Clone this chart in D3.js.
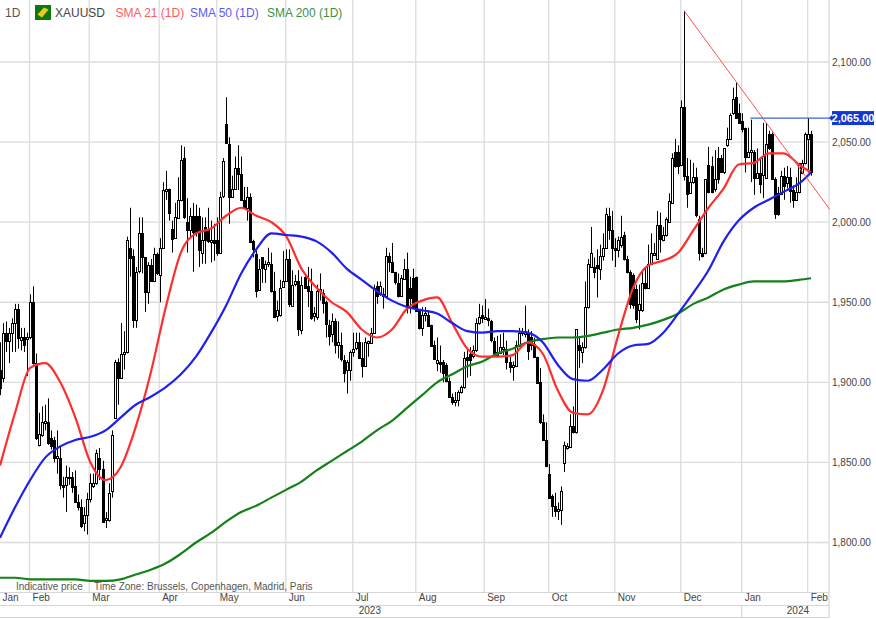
<!DOCTYPE html>
<html>
<head>
<meta charset="utf-8">
<title>XAUUSD</title>
<script src="https://cdn.jsdelivr.net/npm/d3@7"></script>
<style>
  html, body { margin: 0; padding: 0; background: #fff; }
  svg { display: block; font-family: "Liberation Sans", Arial, sans-serif; }
</style>
</head>
<body>
<svg id="chart" width="876" height="619"></svg>
<script>
// Daily bars, Jan 2023 - Feb 2024
const opens = [
  1908,1903,1931,1926,1931,1937,1946,1926,1928,1927,
  1928,1950,1912,1861,1867,1875,1875,1865,1864,1853,
  1853,1836,1836,1841,1841,1835,1825,1822,1812,1817,
  1827,1835,1837,1853,1846,1814,1814,1832,1878,1913,
  1903,1918,1919,1984,1979,1939,1969,1993,1978,1956,
  1973,1963,1980,1967,1984,2020,2021,1996,1990,2003,
  2014,2040,2000,1995,2004,2004,2004,1981,1997,1995,
  1988,1989,1989,1981,2016,2061,2049,2016,2021,2034,
  2030,2014,2009,2016,1988,1980,1958,1978,1971,1974,
  1974,1957,1941,1942,1959,1963,1977,1948,1961,1963,
  1933,1966,1960,1957,1941,1941,1957,1956,1950,1936,
  1930,1938,1923,1923,1914,1908,1908,1919,1921,1925,
  1915,1910,1925,1925,1931,1960,1955,1954,1954,1979,
  1975,1969,1962,1954,1965,1971,1959,1965,1966,1945,
  1934,1942,1942,1936,1923,1912,1913,1913,1911,1901,
  1891,1888,1889,1894,1897,1916,1918,1916,1920,1937,
  1942,1940,1940,1938,1926,1917,1918,1921,1921,1913,
  1910,1910,1923,1931,1930,1931,1928,1924,1916,1900,
  1875,1864,1843,1829,1823,1820,1820,1850,1859,1860,
  1873,1869,1923,1919,1922,1947,1972,1972,1973,1971,
  1979,1984,2004,1995,1984,1983,1986,1992,1977,1969,
  1967,1958,1945,1945,1962,1959,1974,1980,1977,1998,
  1989,1992,2000,2012,2044,2044,2036,2072,2029,2018,
  2025,2028,2002,1981,1981,2036,2035,2021,2040,2040,
  2031,2048,2052,2068,2078,2068,2063,2059,2041,2044,
  2044,2028,2031,2029,2028,2055,2055,2027,2018,2018,
  2029,2024,2028,2020,2014,2019,2031,2037,2052,2055
];
const highs = [
  1925,1937,1938,1934,1940,1949,1949,1934,1934,1931,
  1955,1960,1918,1881,1885,1886,1890,1870,1866,1870,
  1860,1841,1848,1847,1844,1845,1830,1827,1822,1831,
  1843,1843,1858,1859,1851,1819,1837,1870,1914,1915,
  1937,1932,1991,2009,1983,1972,2003,2003,1978,1975,
  1977,1984,1981,1990,2025,2032,2021,2001,2012,2028,
  2048,2047,2015,2009,2012,2011,2009,2003,2003,2009,
  2001,1999,2003,2019,2040,2078,2053,2029,2041,2048,
  2041,2022,2022,2018,1989,1984,1977,1978,1976,1984,
  1981,1969,1951,1964,1982,1983,1983,1970,1967,1970,
  1966,1968,1972,1971,1947,1961,1968,1958,1951,1939,
  1943,1940,1938,1931,1917,1914,1920,1931,1931,1931,
  1925,1928,1926,1934,1961,1963,1963,1959,1984,1981,
  1987,1969,1968,1967,1977,1981,1966,1971,1966,1945,
  1947,1947,1945,1936,1926,1928,1923,1914,1912,1903,
  1893,1894,1895,1898,1919,1920,1922,1923,1940,1949,
  1948,1952,1946,1939,1928,1929,1930,1931,1926,1916,
  1913,1926,1934,1934,1948,1933,1932,1928,1916,1909,
  1880,1875,1849,1830,1831,1825,1835,1863,1862,1880,
  1885,1933,1928,1925,1963,1977,1997,1978,1983,1986,
  1993,2009,2009,2007,1990,1991,2004,1994,1979,1970,
  1968,1961,1961,1969,1972,1986,1993,1987,2007,2006,
  1997,2003,2018,2043,2052,2048,2076,2132,2040,2039,
  2037,2034,2004,1984,2027,2047,2041,2045,2047,2042,
  2046,2059,2068,2084,2087,2074,2068,2059,2059,2064,
  2045,2046,2040,2062,2062,2057,2056,2028,2022,2032,
  2034,2035,2034,2023,2028,2037,2039,2056,2065,2057
];
const lows = [
  1892,1900,1919,1912,1919,1919,1921,1920,1919,1904,
  1927,1911,1864,1860,1866,1870,1861,1858,1850,1843,
  1833,1828,1819,1836,1831,1825,1820,1809,1807,1805,
  1825,1834,1836,1839,1813,1809,1813,1828,1878,1886,
  1903,1908,1918,1966,1934,1934,1968,1968,1944,1949,
  1963,1963,1967,1950,1984,2014,2001,1981,1990,2002,
  2013,2002,1981,1990,1969,1991,1972,1974,1974,1987,
  1975,1976,1979,1981,2015,2049,1999,2016,2021,2020,
  2014,2009,2001,1987,1978,1953,1957,1962,1962,1972,
  1956,1941,1938,1941,1959,1963,1947,1947,1960,1929,
  1930,1959,1947,1939,1938,1939,1951,1943,1928,1923,
  1925,1918,1915,1913,1900,1893,1901,1916,1920,1915,
  1903,1910,1916,1925,1931,1949,1954,1946,1953,1969,
  1969,1961,1953,1954,1964,1943,1943,1946,1944,1933,
  1929,1938,1935,1923,1914,1907,1906,1900,1900,1891,
  1886,1885,1885,1893,1896,1903,1904,1915,1919,1936,
  1937,1939,1935,1925,1916,1916,1918,1917,1908,1906,
  1901,1910,1922,1929,1928,1914,1920,1916,1899,1874,
  1864,1847,1828,1816,1816,1814,1811,1844,1858,1859,
  1868,1868,1909,1912,1921,1946,1972,1965,1953,1964,
  1976,1984,1989,1976,1972,1978,1984,1976,1968,1946,
  1946,1937,1933,1944,1958,1959,1974,1979,1977,1981,
  1988,1991,2000,2012,2034,2030,2035,2026,2009,2018,
  2024,2003,1976,1978,1980,2018,2018,2019,2024,2031,
  2030,2047,2052,2067,2065,2062,2056,2031,2040,2025,
  2017,2027,2018,2015,2028,2045,2027,2002,2004,2017,
  2014,2021,2012,2009,2014,2018,2030,2036,2031,2029
];
const closes = [
  1897,1931,1926,1931,1937,1946,1928,1928,1923,1928,
  1950,1912,1865,1868,1875,1876,1862,1860,1853,1854,
  1836,1835,1841,1841,1835,1825,1822,1810,1817,1827,
  1837,1837,1856,1846,1813,1815,1831,1867,1913,1903,
  1918,1919,1989,1978,1939,1969,1993,1978,1956,1973,
  1963,1980,1968,1984,2020,2021,2006,1990,2003,2014,
  2039,2003,1995,2004,1994,1994,1983,1989,1989,1988,
  1989,1987,1981,2016,2038,2049,2016,2021,2034,2030,
  2014,2009,2016,1988,1983,1957,1971,1971,1974,1975,
  1957,1941,1945,1959,1963,1977,1949,1961,1963,1933,
  1961,1959,1957,1940,1943,1957,1958,1950,1936,1929,
  1938,1923,1925,1914,1906,1913,1919,1921,1925,1915,
  1910,1925,1926,1931,1959,1954,1960,1955,1979,1975,
  1969,1963,1954,1965,1971,1947,1953,1947,1945,1934,
  1942,1943,1935,1923,1914,1914,1912,1906,1901,1891,
  1888,1889,1894,1897,1915,1914,1914,1920,1937,1941,
  1940,1941,1939,1926,1917,1919,1922,1922,1913,1910,
  1911,1923,1931,1932,1932,1920,1923,1916,1900,1875,
  1864,1848,1828,1823,1820,1821,1832,1861,1860,1873,
  1869,1933,1920,1922,1947,1974,1981,1969,1971,1979,
  1984,2005,1995,1984,1983,1989,1991,1977,1969,1949,
  1948,1939,1949,1962,1959,1974,1981,1981,1998,1989,
  1992,2002,2013,2040,2035,2035,2072,2029,2018,2025,
  2028,2004,1981,1979,2027,2019,2019,2027,2027,2031,
  2046,2052,2067,2077,2065,2062,2058,2041,2044,2045,
  2028,2031,2024,2041,2049,2046,2027,2005,2005,2029,
  2023,2028,2019,2014,2019,2037,2037,2055,2055,2031
];

// Moving averages, sampled every 5 bars
const smaBars = [0,5,10,15,20,25,30,35,40,45,50,55,60,65,70,75,80,85,90,95,100,105,110,115,120,125,130,135,140,145,150,155,160,165,170,175,180,185,190,195,200,205,210,215,220,225,230,235,240,245,250,255,260,265,269];
const sma21 = [1848,1881,1909,1912,1900,1878,1850,1839,1847,1872,1906,1947,1981,1993,1996,2004,2009,2004,2000,1991,1971,1959,1950,1944,1933,1928,1933,1946,1951,1953,1937,1921,1916,1916,1917,1925,1918,1895,1881,1880,1895,1929,1959,1973,1976,1981,1995,2009,2021,2036,2037,2043,2043,2036,2031];
const sma50 = [1803,1822,1839,1853,1860,1864,1866,1870,1878,1886,1891,1897,1905,1916,1931,1948,1968,1983,1993,1992,1991,1988,1981,1971,1964,1957,1951,1947,1945,1943,1937,1932,1931,1932,1932,1931,1925,1911,1902,1901,1908,1918,1923,1924,1931,1943,1956,1970,1988,2001,2009,2014,2019,2024,2031];
const sma200 = [1778,1778,1777,1777,1777,1777,1776,1776,1777,1780,1783,1787,1793,1800,1806,1813,1819,1823,1828,1833,1838,1845,1851,1857,1863,1870,1876,1884,1892,1900,1905,1910,1913,1918,1921,1925,1927,1928,1928,1929,1931,1933,1934,1936,1939,1943,1949,1953,1958,1961,1963,1963,1963,1964,1965];

// Axis labels
const priceTicks = [1800, 1850, 1900, 1950, 2000, 2050, 2100];
const monthLabels = ["Jan","Feb","Mar","Apr","May","Jun","Jul","Aug","Sep","Oct","Nov","Dec","Jan","Feb"];
const monthBars = [-0.2, 9.8, 29.6, 52.8, 71.9, 94.8, 117, 137.9, 160.6, 182, 203.9, 225.8, 246, 267.9];
const yearLabels = ["2023", "2024"];
const yearBars = [122.5, 264.5];

// Drawn annotations
const trendBars = [226.9, 275.2];
const trendPrices = [2132, 2008];
const lastPriceBars = [248.9, 275.2];
const lastPrice = 2065;

const legendLabels = ["1D", "XAUUSD", "SMA 21 (1D)", "SMA 50 (1D)", "SMA 200 (1D)"];
const legendColors = ["#555", "#444", "#ff5a5a", "#5a5af5", "#3f8f3f"];
const legendLeft = [5, 55, 115.5, 190, 267];

const plotRight = 829, plotBottom = 592;

const svg = d3.select("#chart");

const x = d3.scaleLinear().domain([0, 269]).range([0, 811]);
const y = d3.scaleLinear().domain([1800, 2100]).range([542.5, 62]);

// Snap to the middle of a pixel so the candles stay sharp
const snap = v => Math.round(v) + 0.5;

svg.append("defs").append("clipPath").attr("id", "plot")
  .append("rect").attr("width", plotRight).attr("height", plotBottom);

// Grid
const gridColor = "#dcdcdc";
const grid = svg.append("g").attr("stroke", gridColor).attr("stroke-width", 1.3);
grid.selectAll("line.h").data(priceTicks).join("line").attr("class", "h")
  .attr("x1", 0).attr("x2", plotRight)
  .attr("y1", d => y(d)).attr("y2", d => y(d));
grid.selectAll("line.v").data(monthBars.slice(1)).join("line").attr("class", "v")
  .attr("x1", d => x(d)).attr("x2", d => x(d))
  .attr("y1", 0).attr("y2", plotBottom);

// Axis strips along the bottom and right
const strip = svg.append("g").attr("stroke", "#d6d6d6").attr("stroke-width", 1.2);
[plotBottom + 0.5, 605.5, 617.5].forEach(v => {
  strip.append("line").attr("x1", 0).attr("x2", plotRight).attr("y1", v).attr("y2", v);
});
strip.append("line").attr("x1", plotRight).attr("x2", plotRight).attr("y1", 0).attr("y2", 618);
strip.append("line").attr("x1", x(246)).attr("x2", x(246)).attr("y1", 605).attr("y2", 618);

// Candles
const plot = svg.append("g").attr("clip-path", "url(#plot)");
const candle = plot.selectAll("g.candle").data(d3.range(opens.length)).join("g").attr("class", "candle");

candle.append("line")
  .attr("x1", i => snap(x(i))).attr("x2", i => snap(x(i)))
  .attr("y1", i => y(highs[i])).attr("y2", i => y(lows[i]))
  .attr("stroke", "#000").attr("stroke-width", 1);

candle.append("rect")
  .attr("x", i => snap(x(i)) - 1)
  .attr("width", 2)
  .attr("y", i => snap(y(Math.max(opens[i], closes[i]))))
  .attr("height", i => Math.max(1, Math.round(Math.abs(y(opens[i]) - y(closes[i])))))
  .attr("fill", i => closes[i] < opens[i] ? "#000" : "#fff")
  .attr("stroke", "#000").attr("stroke-width", 1);

// Moving averages
const smaLine = d3.line()
  .x((d, i) => x(smaBars[i]))
  .y(d => y(d))
  .curve(d3.curveMonotoneX);

[[sma200, "#16801a"], [sma21, "#ff2e2e"], [sma50, "#1f1fee"]].forEach(([values, color]) => {
  plot.append("path").attr("d", smaLine(values))
    .attr("fill", "none").attr("stroke", color).attr("stroke-width", 2.2);
});

// Trend line and last price line
svg.append("line")
  .attr("x1", x(trendBars[0])).attr("y1", y(trendPrices[0]))
  .attr("x2", x(trendBars[1])).attr("y2", y(trendPrices[1]))
  .attr("stroke", "#ff5050").attr("stroke-width", 1);
svg.append("line")
  .attr("x1", x(lastPriceBars[0])).attr("x2", x(lastPriceBars[1]))
  .attr("y1", y(lastPrice)).attr("y2", y(lastPrice))
  .attr("stroke", "#3f63d8").attr("stroke-width", 1.2);

// Price axis
const yAxis = svg.append("g")
  .attr("transform", `translate(${plotRight},0)`)
  .call(d3.axisRight(y).tickValues(priceTicks).tickFormat(d3.format(",.2f")).tickSize(0).tickPadding(3));
yAxis.select(".domain").remove();
yAxis.selectAll("text").attr("font-size", 10).attr("font-family", "inherit").attr("fill", "#444");

// Last price tag
svg.append("rect").attr("x", 832).attr("y", y(lastPrice) - 7).attr("width", 42).attr("height", 14).attr("fill", "#1238d2");
svg.append("path")
  .attr("d", d3.line()([[829, y(lastPrice)], [832, y(lastPrice) - 3], [832, y(lastPrice) + 3]]))
  .attr("fill", "#1238d2");
svg.append("text").attr("x", 853).attr("y", y(lastPrice) + 4)
  .attr("text-anchor", "middle").attr("fill", "#fff").attr("font-size", 11).attr("font-weight", "bold")
  .text(d3.format(",.2f")(lastPrice));

// Month axis
const monthAxis = svg.append("g")
  .attr("transform", `translate(0,${plotBottom})`)
  .call(d3.axisBottom(x).tickValues(monthBars).tickFormat((d, i) => monthLabels[i]).tickSize(0).tickPadding(2));
monthAxis.select(".domain").remove();
monthAxis.selectAll("text")
  .attr("text-anchor", "start").attr("dx", 2.5)
  .attr("font-size", 10).attr("font-family", "inherit").attr("fill", "#444");

// Year axis
const yearAxis = svg.append("g")
  .attr("transform", `translate(0,605)`)
  .call(d3.axisBottom(x).tickValues(yearBars).tickFormat((d, i) => yearLabels[i]).tickSize(0).tickPadding(2));
yearAxis.select(".domain").remove();
yearAxis.selectAll("text")
  .attr("font-size", 10).attr("font-family", "inherit").attr("fill", "#444");

// Notes under the plot
svg.append("text").attr("x", 16).attr("y", 589.5).attr("font-size", 10).attr("fill", "#555").text("Indicative price");
svg.append("text").attr("x", 94).attr("y", 589.5).attr("font-size", 10).attr("fill", "#555").text("Time Zone: Brussels, Copenhagen, Madrid, Paris");

// Legend
svg.selectAll("text.legend").data(legendLabels).join("text").attr("class", "legend")
  .attr("x", (d, i) => legendLeft[i]).attr("y", 16.5)
  .attr("font-size", 12)
  .attr("fill", (d, i) => legendColors[i])
  .text(d => d);

// Gold bar icon
const icon = svg.append("g").attr("transform", "translate(35,5)");
icon.append("rect").attr("width", 16).attr("height", 15).attr("fill", "#0b7a0b");
icon.append("path").attr("d", "M2.5 9.5 L9 2.5 L13.5 4.5 L7 12.5 Z").attr("fill", "#f2c820");
</script>
</body>
</html>
